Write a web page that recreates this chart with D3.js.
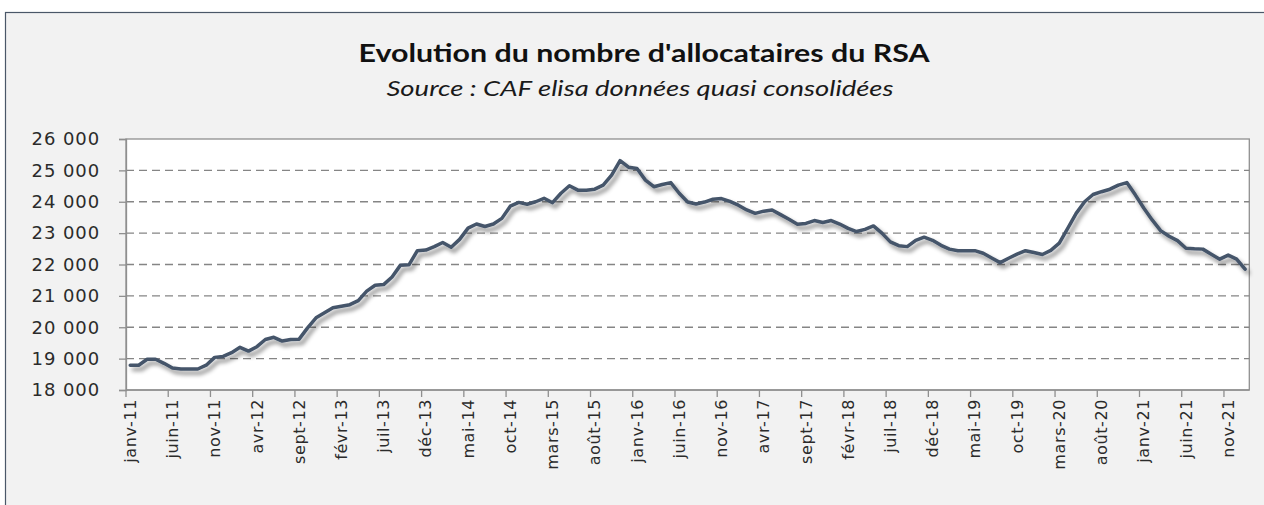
<!DOCTYPE html>
<html>
<head>
<meta charset="utf-8">
<script src="https://cdn.jsdelivr.net/npm/d3@7/dist/d3.min.js"></script>
<style>
  html, body { margin: 0; padding: 0; background: #ffffff; }
  svg { display: block; }
</style>
</head>
<body>
<script>
// ---- Data ----
const monthNames = ["janv", "févr", "mars", "avr", "mai", "juin", "juil", "août", "sept", "oct", "nov", "déc"];
const years = ["11", "12", "13", "14", "15", "16", "17", "18", "19", "20", "21", "22"];
const categories = [];
years.forEach(yy => monthNames.forEach(m => categories.push(m + "-" + yy)));
categories.length = 133; // janv-11 .. janv-22

const allocataires = [
  18790, 18790, 18980, 18980, 18850, 18700, 18670, 18670, 18670, 18790, 19040, 19070,
  19190, 19360, 19240, 19380, 19610, 19680, 19560, 19610, 19620, 19980, 20300, 20460,
  20620, 20670, 20720, 20850, 21150, 21340, 21360, 21600, 21980, 21990, 22440, 22460,
  22570, 22700, 22550, 22800, 23160, 23290, 23210, 23290, 23470, 23860, 23980, 23920,
  24000, 24110, 23970, 24270, 24510, 24370, 24370, 24400, 24530, 24850, 25310, 25100,
  25060, 24690, 24480, 24550, 24610, 24270, 23990, 23930, 23990, 24080, 24100, 24010,
  23890, 23740, 23630, 23700, 23740, 23590, 23440, 23280, 23310, 23400, 23340, 23400,
  23290, 23150, 23050, 23120, 23230, 23000, 22720, 22600, 22570, 22770, 22870, 22770,
  22610, 22490, 22440, 22440, 22440, 22360, 22210, 22060, 22200, 22330, 22440, 22380,
  22320, 22450, 22680, 23150, 23630, 24000, 24230, 24320, 24400, 24530, 24610, 24220,
  23800, 23420, 23080, 22900, 22760, 22520, 22500, 22490, 22330, 22170, 22300, 22170,
  21850
];

const yTicks = [18000, 19000, 20000, 21000, 22000, 23000, 24000, 25000, 26000];
const xTickLabels = categories.filter((c, i) => i % 5 === 0);

const titleText = "Evolution du nombre d'allocataires du RSA";
const subtitleText = "Source : CAF elisa données quasi consolidées";

// ---- Layout ----
const W = 1264, H = 505;
const plot = { left: 126, right: 1249.3, top: 139, bottom: 390 };

const svg = d3.select("body").append("svg")
  .attr("width", W).attr("height", H);

const defs = svg.append("defs");
const f = defs.append("filter").attr("id", "shadow")
  .attr("x", "-5%").attr("y", "-20%").attr("width", "110%").attr("height", "140%");
f.append("feDropShadow")
  .attr("dx", 3).attr("dy", 4).attr("stdDeviation", 2.3)
  .attr("flood-color", "#000").attr("flood-opacity", 0.45);

// chart area
svg.append("rect")
  .attr("x", 5.5).attr("y", 12.5).attr("width", 1400).attr("height", 700)
  .attr("fill", "#f2f2f2").attr("stroke", "#4a5768").attr("stroke-width", 1.2);

// titles
const fmt = d3.formatLocale({ decimal: ",", thousands: " ", grouping: [3], currency: ["", " €"] }).format(",d");

svg.append("text")
  .attr("x", 644).attr("y", 62)
  .attr("text-anchor", "middle")
  .attr("font-family", "Lato, 'Open Sans', sans-serif")
  .attr("font-weight", "bold")
  .attr("font-size", 24)
  .attr("fill", "#111")
  .attr("textLength", 571).attr("lengthAdjust", "spacingAndGlyphs")
  .text(titleText);

svg.append("text")
  .attr("x", 640).attr("y", 96)
  .attr("text-anchor", "middle")
  .attr("font-family", "Lato, 'Open Sans', sans-serif")
  .attr("font-style", "italic")
  .attr("font-size", 21)
  .attr("fill", "#1a1a1a")
  .attr("textLength", 507).attr("lengthAdjust", "spacingAndGlyphs")
  .text(subtitleText);

// scales
const x = d3.scaleBand().domain(categories).range([plot.left, plot.right]);
const y = d3.scaleLinear().domain([18000, 26000]).range([plot.bottom, plot.top]);
const bw = x.bandwidth();

// plot area
svg.append("rect")
  .attr("x", plot.left).attr("y", plot.top)
  .attr("width", plot.right - plot.left).attr("height", plot.bottom - plot.top)
  .attr("fill", "#ffffff").attr("stroke", "#8f8f8f").attr("stroke-width", 1.3);

// gridlines
svg.append("g").selectAll("line")
  .data(yTicks.filter(v => v > 18000 && v < 26000))
  .join("line")
  .attr("x1", plot.left).attr("x2", plot.right)
  .attr("y1", d => y(d)).attr("y2", d => y(d))
  .attr("stroke", "#858585").attr("stroke-width", 1.4)
  .attr("stroke-dasharray", "8,5");

// y axis
const yAxis = svg.append("g")
  .attr("transform", `translate(${plot.left},0)`)
  .call(d3.axisLeft(y).tickValues(yTicks).tickFormat(fmt).tickSize(7).tickPadding(19));
yAxis.select(".domain").attr("stroke", "#8f8f8f").attr("stroke-width", 1.3);
yAxis.selectAll(".tick line").attr("stroke", "#8f8f8f").attr("stroke-width", 1.3);
yAxis.selectAll(".tick text")
  .attr("font-family", "'DejaVu Sans', sans-serif")
  .attr("font-size", 18)
  .attr("letter-spacing", 0.9)
  .attr("fill", "#2b2b2b");

// x axis ticks (at category boundaries)
const xg = svg.append("g");
xg.append("line")
  .attr("x1", plot.left).attr("x2", plot.right)
  .attr("y1", plot.bottom).attr("y2", plot.bottom)
  .attr("stroke", "#8f8f8f").attr("stroke-width", 1.3);
xg.selectAll("line.tk")
  .data(xTickLabels)
  .join("line").attr("class", "tk")
  .attr("x1", d => x(d)).attr("x2", d => x(d))
  .attr("y1", plot.bottom).attr("y2", plot.bottom + 7)
  .attr("stroke", "#8f8f8f").attr("stroke-width", 1.3);
xg.selectAll("text")
  .data(xTickLabels)
  .join("text")
  .attr("transform", d => `translate(${x(d) + bw / 2},399) rotate(-90)`)
  .attr("text-anchor", "end")
  .attr("dy", "0.35em")
  .attr("font-family", "'DejaVu Sans', sans-serif")
  .attr("font-size", 16)
  .attr("letter-spacing", 0.6)
  .attr("fill", "#2b2b2b")
  .text(d => d);

// line
const line = d3.line()
  .x((d, i) => x(categories[i]) + bw / 2)
  .y(d => y(d));

svg.append("path")
  .datum(allocataires)
  .attr("d", line)
  .attr("fill", "none")
  .attr("stroke", "#44546a")
  .attr("stroke-width", 3.5)
  .attr("stroke-linejoin", "round")
  .attr("stroke-linecap", "round")
  .attr("filter", "url(#shadow)");
</script>
</body>
</html>
